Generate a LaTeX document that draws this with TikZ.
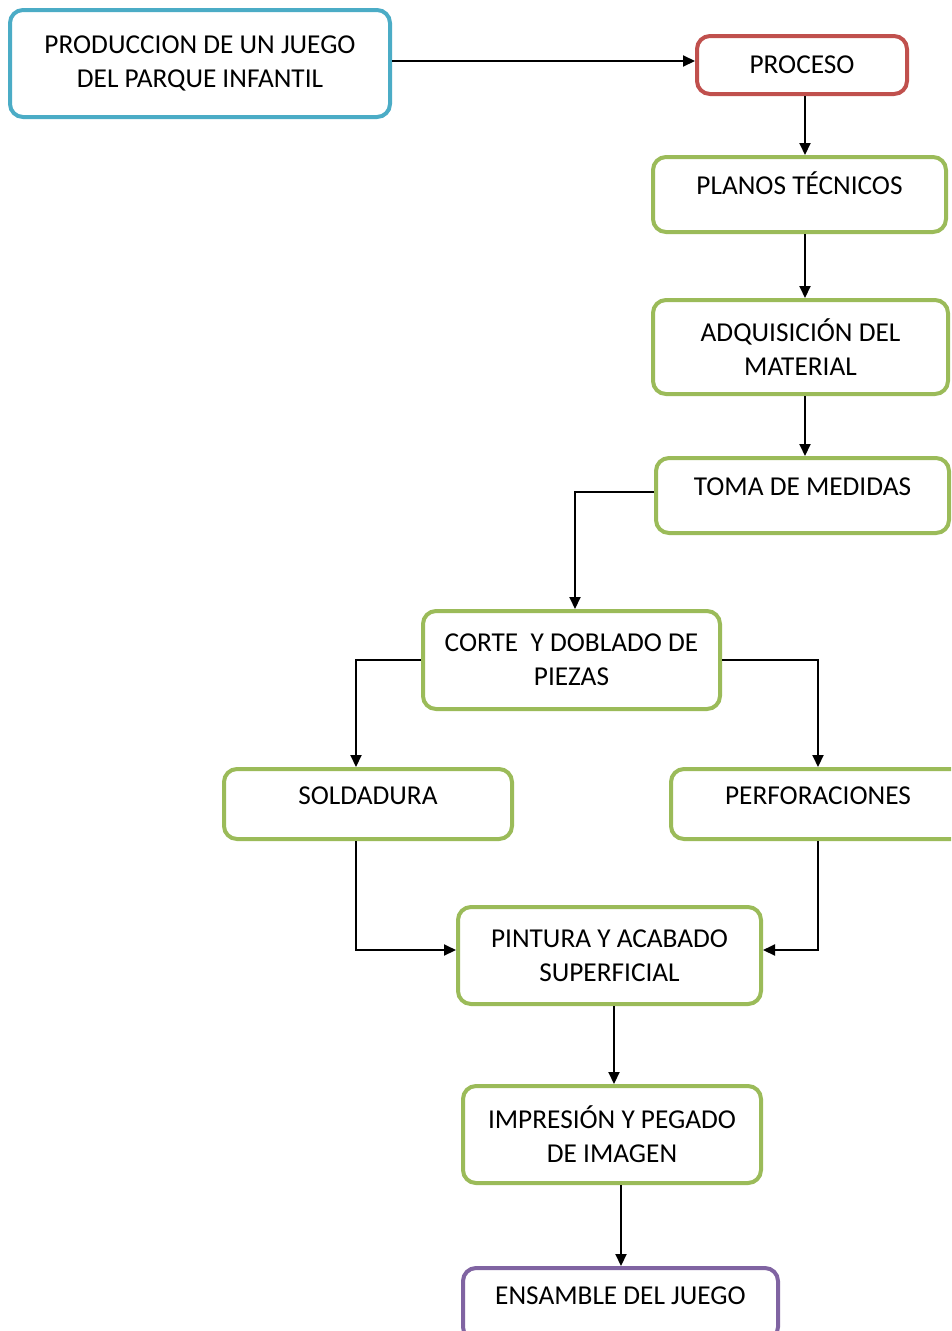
\documentclass[tikz,border=0pt]{standalone}
\usepackage{fontspec}
\setmainfont{Carlito}
\usetikzlibrary{arrows.meta}
\definecolor{cblue}{HTML}{4BACC6}
\definecolor{cred}{HTML}{C0504D}
\definecolor{cgreen}{HTML}{9BBB59}
\definecolor{cpurple}{HTML}{8064A2}
\tikzset{
  box/.style={draw=cgreen, line width=4pt, rounded corners=13pt, fill=white,
    align=center, inner sep=0pt, font=\fontsize{27.3}{34}\selectfont, text=black},
  topline/.style={text height=0pt, text depth=0pt},
  arr/.style={line width=2pt, -{Triangle[length=12pt,width=11pt]}},
}
\begin{document}
\begin{tikzpicture}[x=1pt,y=-1pt]
\useasboundingbox (0,0) rectangle (951,1331);
\clip (0,0) rectangle (951,1331);
\fill[white] (0,0) rectangle (951,1331);
\node[box, draw=cblue, minimum width=380pt, minimum height=107pt] (prod) at (200,63.5) {PRODUCCION DE UN JUEGO\\DEL PARQUE INFANTIL};
\node[box, draw=cred, minimum width=210pt, minimum height=58pt] (proc) at (802,65) {PROCESO};
\node[box, topline, minimum width=293pt, minimum height=75pt] (planos) at (799.5,194.5) {PLANOS TÉCNICOS};
\node[box, minimum width=295pt, minimum height=94pt] (adq) at (800.5,347) {ADQUISICIÓN DEL\\MATERIAL};
\node[box, topline, minimum width=293pt, minimum height=75pt] (toma) at (802.5,495.5) {TOMA DE MEDIDAS};
\node[box, minimum width=297pt, minimum height=98pt] (corte) at (571.5,660) {CORTE \ Y DOBLADO DE\\PIEZAS};
\node[box, topline, minimum width=288pt, minimum height=70pt] (sold) at (368,804) {SOLDADURA};
\node[box, topline, minimum width=294pt, minimum height=70pt] (perf) at (818,804) {PERFORACIONES};
\node[box, minimum width=303pt, minimum height=97pt] (pint) at (609.5,955.5) {PINTURA Y ACABADO\\SUPERFICIAL};
\node[box, minimum width=298pt, minimum height=97pt] (impr) at (612,1134.5) {IMPRESIÓN Y PEGADO\\DE IMAGEN};
\node[box, topline, draw=cpurple, minimum width=315pt, minimum height=72pt] (ens) at (620.5,1304) {ENSAMBLE DEL JUEGO};

\coordinate (vx) at (805,0);
\coordinate (sx) at (356,0);
\coordinate (ex) at (621,0);
\draw[arr] (prod.east) ++(0,-2.5) coordinate (p1) -- (p1 -| proc.west);
\draw[arr] (vx |- proc.south) -- (vx |- planos.north);
\draw[arr] (vx |- planos.south) -- (vx |- adq.north);
\draw[arr] (vx |- adq.south) -- (vx |- toma.north);
\draw[arr] ([yshift=3.5pt]toma.west) -| ([xshift=3.5pt]corte.north);
\draw[arr] (corte.west) -| (sx |- sold.north);
\draw[arr] (corte.east) -| (perf.north);
\draw[arr] (sx |- sold.south) |- ([yshift=5.5pt]pint.west);
\draw[arr] (perf.south) |- ([yshift=5.5pt]pint.east);
\draw[arr] ([xshift=4.5pt]pint.south) -- ([xshift=4.5pt]pint.south |- impr.north);
\draw[arr] (ex |- impr.south) -- (ex |- ens.north);
\end{tikzpicture}
\end{document}
